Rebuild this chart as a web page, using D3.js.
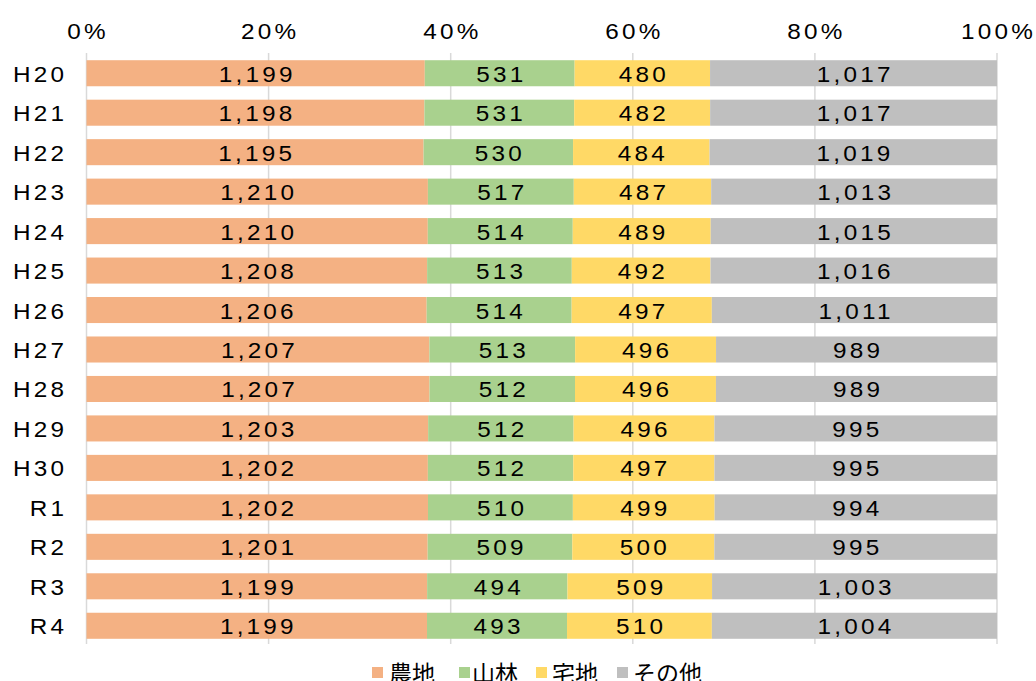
<!DOCTYPE html>
<html><head><meta charset="utf-8">
<script src="https://cdn.jsdelivr.net/npm/d3@7"></script>
<style>body{margin:0;background:#fff}svg{display:block}</style>
</head><body>
<script>
const categories = ["H20","H21","H22","H23","H24","H25","H26","H27","H28","H29","H30","R1","R2","R3","R4"];
const seriesNames = ["農地","山林","宅地","その他"];
const nouchi = [1199,1198,1195,1210,1210,1208,1206,1207,1207,1203,1202,1202,1201,1199,1199];
const sanrin = [531,531,530,517,514,513,514,513,512,512,512,510,509,494,493];
const takuchi = [480,482,484,487,489,492,497,496,496,496,497,499,500,509,510];
const sonota = [1017,1017,1019,1013,1015,1016,1011,989,989,995,995,994,995,1003,1004];
const tickValues = [0,0.2,0.4,0.6,0.8,1.0];
const colors = ["#F4B183","#A9D18E","#FFD966","#BFBFBF"];

const W=1036,H=681;
const svg=d3.select("body").append("svg").attr("width",W).attr("height",H);
const font="'Liberation Sans', Arial, sans-serif";
const FS=22.5, SX=1.08, LS=3;
const x=d3.scaleLinear().domain([0,1]).range([86.5,997]);
const y=d3.scaleBand().domain(categories).range([53.5,645.5]).paddingInner(0.34).paddingOuter(0.17);

function label(parent, anchor, px, py, txt){
  const gg=parent.append("g").attr("transform",`translate(${px},${py}) scale(${SX},1)`);
  return gg.append("text").attr("x",0).attr("y",0).attr("text-anchor",anchor)
    .attr("font-family",font).attr("font-size",FS).attr("letter-spacing",LS).attr("fill","#000").text(txt);
}

const series=[nouchi,sanrin,takuchi,sonota];
const rows=categories.map((c,i)=>{
  const vals=series.map(s=>s[i]); const tot=d3.sum(vals);
  let acc=0;
  return vals.map((v,k)=>{const o={cat:c,k,v,x0:acc/tot,x1:(acc+v)/tot};acc+=v;return o;});
});

// gridlines
svg.append("g").selectAll("line").data(tickValues).join("line")
  .attr("x1",d=>x(d)).attr("x2",d=>x(d)).attr("y1",53).attr("y2",644)
  .attr("stroke","#D9D9D9").attr("stroke-width",1.5);

// top axis labels
const ax=svg.append("g");
tickValues.forEach(t=>label(ax,"middle",x(t)+LS*SX/2,38.5,d3.format(".0%")(t)));

// bars
const g=svg.append("g");
rows.forEach(r=>{
  g.selectAll(null).data(r).join("rect")
   .attr("x",d=>x(d.x0)).attr("width",d=>x(d.x1)-x(d.x0))
   .attr("y",d=>y(d.cat)).attr("height",y.bandwidth())
   .attr("fill",d=>colors[d.k]);
  r.forEach(d=>label(g,"middle",(x(d.x0)+x(d.x1))/2+LS*SX/2,y(d.cat)+y.bandwidth()/2+8.5,d3.format(",")(d.v)));
});

// category labels
const cl=svg.append("g");
categories.forEach(c=>label(cl,"end",64+LS*SX,y(c)+y.bandwidth()/2+8.5,c));

// legend
const legSq=[372,459,536,617];
const legTx=[389,472,552,633];
const lg=svg.append("g");
seriesNames.forEach((n,i)=>{
  lg.append("rect").attr("x",legSq[i]).attr("y",667).attr("width",11).attr("height",11).attr("fill",colors[i]);
  lg.append("text").attr("x",legTx[i]).attr("y",682).attr("font-family","'Noto Sans CJK JP', sans-serif")
    .attr("font-size",23).attr("fill","#000").text(n);
});
</script>
</body></html>
